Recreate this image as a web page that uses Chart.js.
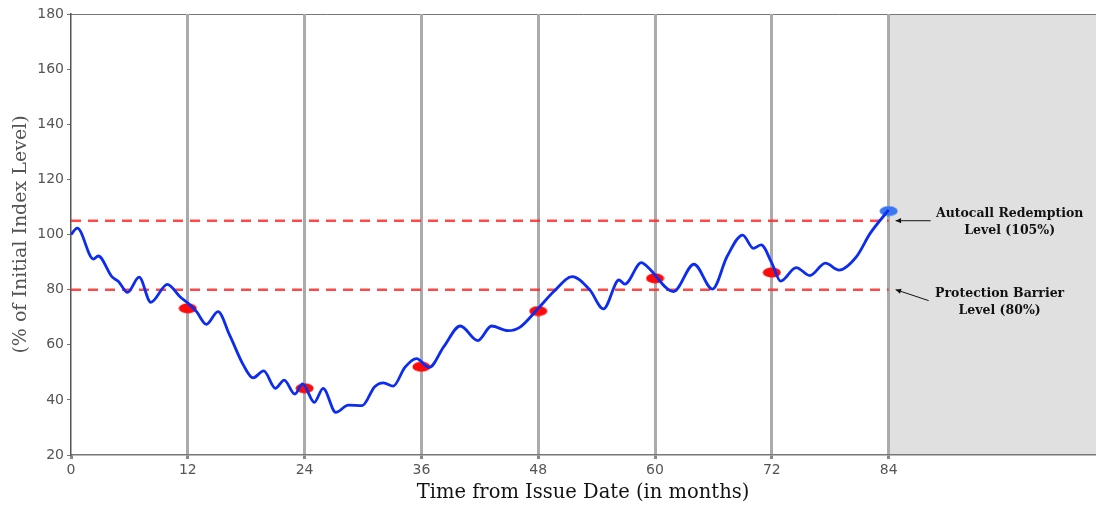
<!DOCTYPE html>
<html>
<head>
<meta charset="utf-8">
<script src="https://cdn.jsdelivr.net/npm/chart.js@4.4.1/dist/chart.umd.min.js"></script>
<style>
  html, body { margin: 0; padding: 0; background: #fff; }
  #wrap { width: 1096px; height: 506px; }
</style>
</head>
<body>
<div id="wrap"><canvas id="chart"></canvas></div>
<script>
// ---- Data ----
const months = [0, 0.65, 2.3, 2.8, 4.2, 4.9, 5.8, 7.0, 8.2, 9.9, 11.2, 12.05, 12.9, 13.9, 15.1, 16.3,
  17.7, 18.7, 19.8, 21.0, 21.9, 23.0, 23.8, 25.0, 25.9, 27.2, 28.5, 29.9, 31.2, 32.1, 33.1, 34.3,
  35.5, 36.8, 38.3, 40.0, 41.8, 43.2, 44.9, 46.1, 48.0, 49.6, 51.5, 53.3, 54.7, 56.3, 56.9, 58.6,
  59.3, 61.9, 64.0, 65.9, 67.4, 69.0, 70.1, 70.9, 72.0, 72.9, 74.5, 75.9, 77.5, 78.9, 80.7, 82.1, 84.0];
const indexLevel = [100, 102.3, 91.1, 92.2, 84.7, 82.9, 79.0, 84.5, 75.4, 81.9, 77.4, 75.0, 72.0, 67.4, 72.0, 63.5,
  52.7, 48.0, 50.5, 44.2, 47.2, 42.1, 45.8, 39.1, 44.2, 35.5, 38.1, 37.9, 44.8, 46.2, 45.0, 51.8,
  55.0, 51.8, 59.3, 66.8, 61.5, 66.8, 65.1, 66.3, 73.2, 79.3, 84.7, 79.9, 73.0, 83.5, 82.0, 89.8,
  88.0, 79.3, 89.2, 80.2, 92.0, 99.8, 95.0, 96.2, 89.6, 83.1, 88.0, 85.1, 89.6, 87.1, 92.0, 100.4, 108.9];

const obsMonths = [12, 24, 36, 48, 60, 72];
const obsLevels = [73.2, 44.2, 52.0, 72.2, 84.1, 86.2];
const callMonth = 84;
const callLevel = 108.5;

const xTicks = [0, 12, 24, 36, 48, 60, 72, 84];
const autocallLevel = 105;
const barrierLevel = 80;
const levelSpan = [0, 84];

// ---- ellipse marker images ----
function ellipse(color) {
  const c = document.createElement('canvas');
  c.width = 19; c.height = 11;
  const g = c.getContext('2d');
  g.fillStyle = color;
  g.beginPath();
  g.ellipse(9.5, 5.5, 9, 5, 0, 0, Math.PI * 2);
  g.fill();
  return c;
}
const redDot = ellipse('#ff0a0a');
const blueDot = ellipse('#3a78f2');

const serif = '"DejaVu Serif", serif';

// ---- shaded region, top border, annotations ----
const extras = {
  id: 'extras',
  beforeDraw(chart) {
    const {ctx, chartArea: a, scales: {x}} = chart;
    ctx.save();
    ctx.fillStyle = '#e0e0e0';
    const x84 = x.getPixelForValue(callMonth);
    ctx.fillRect(x84, a.top, chart.width - x84, a.bottom - a.top);
    ctx.strokeStyle = '#777';
    ctx.lineWidth = 1;
    ctx.beginPath();
    ctx.moveTo(a.left, a.top + 0.5);
    ctx.lineTo(chart.width, a.top + 0.5);
    ctx.stroke();
    ctx.restore();
  },
  afterDraw(chart) {
    const {ctx, scales: {x, y}} = chart;
    const x84 = x.getPixelForValue(callMonth);
    const yA = y.getPixelForValue(autocallLevel);
    const yB = y.getPixelForValue(barrierLevel);
    ctx.save();
    ctx.fillStyle = '#111';
    ctx.font = 'bold 12.5px ' + serif;
    ctx.textAlign = 'center';
    ctx.textBaseline = 'middle';
    ctx.fillText('Autocall Redemption', x84 + 121, yA - 7);
    ctx.fillText('Level (105%)', x84 + 121, yA + 10);
    ctx.fillText('Protection Barrier', x84 + 111, yB + 4);
    ctx.fillText('Level (80%)', x84 + 111, yB + 21);

    function arrow(x1, y1, x2, y2) {
      ctx.strokeStyle = '#111';
      ctx.lineWidth = 1;
      ctx.beginPath();
      ctx.moveTo(x1, y1);
      ctx.lineTo(x2, y2);
      ctx.stroke();
      const ang = Math.atan2(y2 - y1, x2 - x1);
      ctx.beginPath();
      ctx.moveTo(x2, y2);
      ctx.lineTo(x2 - 6 * Math.cos(ang - 0.45), y2 - 6 * Math.sin(ang - 0.45));
      ctx.lineTo(x2 - 6 * Math.cos(ang + 0.45), y2 - 6 * Math.sin(ang + 0.45));
      ctx.closePath();
      ctx.fill();
    }
    arrow(x84 + 42, yA, x84 + 7, yA);
    arrow(x84 + 40, yB + 11, x84 + 7, yB);
    ctx.restore();
  }
};

const toXY = (xs, ys) => xs.map((v, i) => ({x: v, y: ys[i]}));

new Chart(document.getElementById('chart'), {
  type: 'line',
  data: {
    datasets: [
      {
        data: toXY(months, indexLevel),
        borderColor: '#0c2cf0',
        borderWidth: 2.8,
        pointRadius: 0,
        pointHoverRadius: 0,
        cubicInterpolationMode: 'monotone'
      },
      {
        data: toXY(obsMonths, obsLevels),
        showLine: false,
        pointStyle: redDot,
        pointRadius: 1,
        pointHoverRadius: 0,
        pointBorderWidth: 0
      },
      {
        data: [{x: callMonth, y: callLevel}],
        showLine: false,
        pointStyle: blueDot,
        pointRadius: 1,
        pointHoverRadius: 0,
        pointBorderWidth: 0
      },
      {
        data: levelSpan.map(m => ({x: m, y: autocallLevel})),
        borderColor: 'rgba(255,40,40,0.85)',
        borderWidth: 2.5,
        borderDash: [10, 7],
        pointRadius: 0,
        pointHoverRadius: 0
      },
      {
        data: levelSpan.map(m => ({x: m, y: barrierLevel})),
        borderColor: 'rgba(255,40,40,0.85)',
        borderWidth: 2.5,
        borderDash: [10, 7],
        pointRadius: 0,
        pointHoverRadius: 0
      }
    ]
  },
  options: {
    responsive: true,
    maintainAspectRatio: false,
    animation: false,
    layout: {padding: {top: 14, right: 0, left: 0, bottom: 0}},
    plugins: {legend: {display: false}, tooltip: {enabled: false}},
    scales: {
      x: {
        type: 'linear',
        min: 0,
        max: 105.2,
        afterBuildTicks: s => { s.ticks = xTicks.map(v => ({value: v})); },
        afterFit: s => { s.height = 51; },
        ticks: {color: '#555', padding: 3, font: {family: '"DejaVu Sans", sans-serif', size: 14}},
        grid: {
          color: c => (c.tick && c.tick.value === 0) ? 'rgba(0,0,0,0)' : '#ababab',
          lineWidth: 3,
          tickColor: '#888',
          tickLength: 4
        },
        border: {color: '#777', width: 1.5},
        title: {
          display: true,
          text: 'Time from Issue Date (in months)',
          color: '#111',
          font: {family: serif, size: 19.5},
          padding: {top: 0, bottom: 1}
        }
      },
      y: {
        min: 20,
        max: 180,
        afterFit: s => { s.width = 71; },
        ticks: {stepSize: 20, color: '#555', padding: 3, font: {family: '"DejaVu Sans", sans-serif', size: 14}},
        grid: {drawOnChartArea: false, tickColor: '#777', tickLength: 4},
        border: {color: '#555', width: 1.5},
        title: {
          display: true,
          text: '(% of Initial Index Level)',
          color: '#555',
          font: {family: serif, size: 19},
          padding: {top: 10, bottom: 0}
        }
      }
    }
  },
  plugins: [extras]
});
</script>
</body>
</html>
